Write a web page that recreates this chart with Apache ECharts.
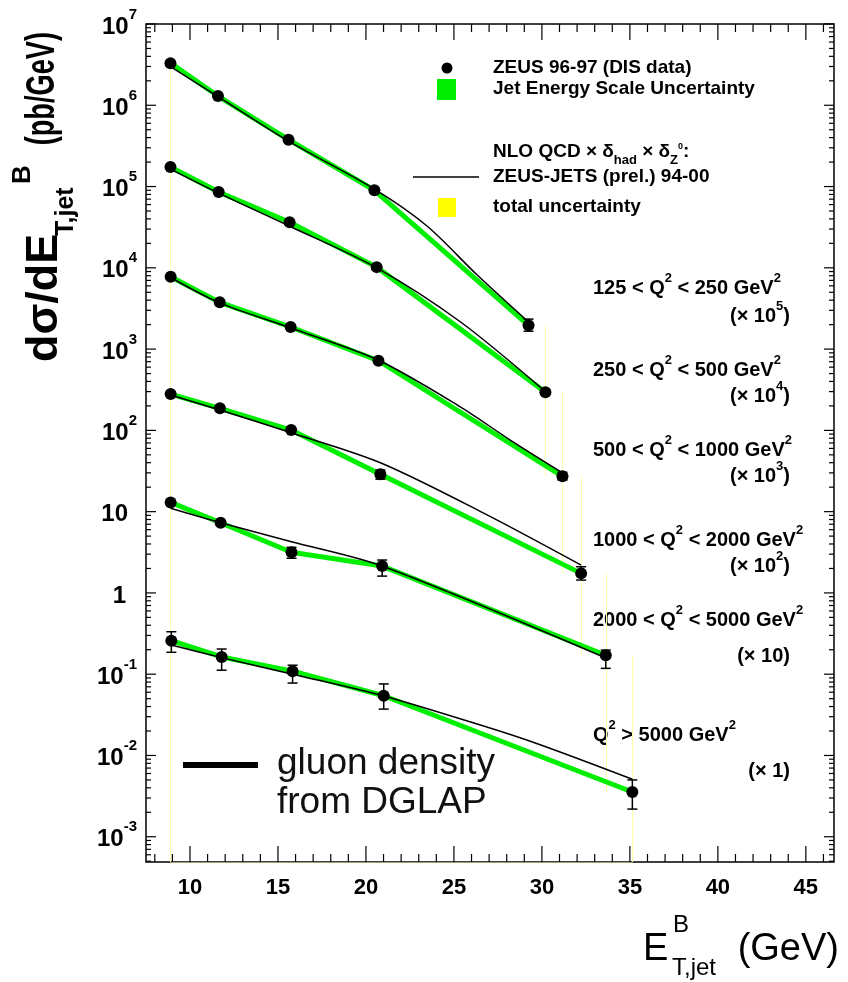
<!DOCTYPE html>
<html><head><meta charset="utf-8">
<script src="https://cdn.jsdelivr.net/npm/echarts@6/dist/echarts.min.js"></script>
<style>html,body{margin:0;padding:0;background:#fff}#c{width:848px;height:982px}</style>
</head><body><div id="c"></div>
<script>
const FONT = '"Liberation Sans", Arial, Helvetica, sans-serif';
const GREEN = '#00ee00';
const YELLOW = '#ffff00';
const PALEYELLOW = '#ffffa8';

// ---- data: 125 < Q2 < 250 (x 1e5)
const s1X  = [8.89, 11.59, 15.60, 20.48, 29.24];
const s1Y  = [3.3e6, 1.3e6, 3.77e5, 9.0e4, 1960];
const s1Lo = [null, null, null, null, 1660];
const s1Hi = [null, null, null, null, 2340];
const t1X  = [8.89, 11.59, 15.60, 20.48, 23.47, 26.31, 29.24];
const t1Y  = [2.98e6, 1.28e6, 3.62e5, 9.3e4, 3.27e4, 8.2e3, 2.15e3];
// ---- 250 < Q2 < 500 (x 1e4)
const s2X  = [8.89, 11.63, 15.66, 20.61, 30.20];
const s2Y  = [1.74e5, 8.57e4, 3.63e4, 1.02e4, 294];
const s2Lo = [null, null, null, null, null];
const s2Hi = [null, null, null, null, null];
const t2X  = [8.89, 11.63, 15.66, 20.61, 25.36, 30.20];
const t2Y  = [1.64e5, 8.3e4, 3.25e4, 1.0e4, 2.17e3, 300];
// ---- 500 < Q2 < 1000 (x 1e3)
const s3X  = [8.90, 11.69, 15.72, 20.71, 31.17];
const s3Y  = [7780, 3760, 1870, 719, 27.2];
const s3Lo = [null, null, null, null, 24.5];
const s3Hi = [null, null, null, null, 30.5];
const t3X  = [8.90, 11.69, 15.72, 20.71, 25.36, 28.2, 31.17];
const t3Y  = [7600, 3700, 1820, 730, 195, 76, 30];
// ---- 1000 < Q2 < 2000 (x 1e2)
const s4X  = [8.90, 11.70, 15.75, 20.82, 32.23];
const s4Y  = [280, 187, 101, 28.8, 1.74];
const s4Lo = [null, null, null, 25.1, 1.44];
const s4Hi = [null, null, null, 32.5, 2.10];
const t4X  = [8.90, 11.70, 15.75, 20.82, 26.69, 32.23];
const t4Y  = [272, 178, 93.6, 40, 9.6, 2.2];
// ---- 2000 < Q2 < 5000 (x 10)
const s5X  = [8.90, 11.74, 15.77, 20.92, 33.63];
const s5Y  = [13.0, 7.31, 3.16, 2.14, 0.171];
const s5Lo = [null, null, 2.67, 1.61, 0.118];
const s5Hi = [null, null, 3.64, 2.54, 0.198];
const t5X  = [8.90, 11.74, 15.77, 20.92, 33.63];
const t5Y  = [11.0, 7.3, 4.27, 2.14, 0.158];
// ---- Q2 > 5000 (x 1)
const s6X  = [8.94, 11.80, 15.83, 21.01, 35.14];
const s6Y  = [0.258, 0.163, 0.109, 0.0543, 0.00355];
const s6Lo = [0.186, 0.112, 0.0778, 0.0372, 0.00219];
const s6Hi = [0.333, 0.204, 0.129, 0.0759, 0.0050];
const t6X  = [8.94, 11.80, 15.83, 21.01, 26.69, 29.9, 35.14];
const t6Y  = [0.229, 0.16, 0.1, 0.054, 0.023, 0.01355, 0.0051];

// bin labels
const binRange = [['125 < Q','2',' < 250 GeV','2'], ['250 < Q','2',' < 500 GeV','2'], ['500 < Q','2',' < 1000 GeV','2'],
                  ['1000 < Q','2',' < 2000 GeV','2'], ['2000 < Q','2',' < 5000 GeV','2'], ['Q','2',' > 5000 GeV','2']];
const binScale = [['(× 10','5',')'], ['(× 10','4',')'], ['(× 10','3',')'], ['(× 10','2',')'], ['(× 10','',')'], ['(× 1','',')']];

// axis ticks and labels
const xMajorTicks = [10, 15, 20, 25, 30, 35, 40, 45];
const xMinorTicks = [8, 9, 11, 12, 13, 14, 16, 17, 18, 19, 21, 22, 23, 24, 26, 27, 28, 29, 31, 32, 33, 34, 36, 37, 38, 39, 41, 42, 43, 44, 46];
const yDecades = [-3, -2, -1, 0, 1, 2, 3, 4, 5, 6, 7];
const yMinorMult = [2, 3, 4, 5, 6, 7, 8, 9];

const X_MIN = 7.5, X_MAX = 46.6, Y_MIN = 4.89e-4, Y_MAX = 1e7;

const sets = [
  [s1X, s1Y, s1Lo, s1Hi, t1X, t1Y],
  [s2X, s2Y, s2Lo, s2Hi, t2X, t2Y],
  [s3X, s3Y, s3Lo, s3Hi, t3X, t3Y],
  [s4X, s4Y, s4Lo, s4Hi, t4X, t4Y],
  [s5X, s5Y, s5Lo, s5Hi, t5X, t5Y],
  [s6X, s6Y, s6Lo, s6Hi, t6X, t6Y]
];

const zip = (xs, ys) => xs.map((x, i) => [x, ys[i]]);
const series = [];

// pale yellow outline segments of the theory uncertainty
const yl = [];
yl.push({coords: [[s1X[0], s1Y[0]], [s1X[0], Y_MIN]]});
yl.push({coords: [[s1X[0], Y_MIN], [s6X[4], Y_MIN]]});
for (let k = 1; k < 6; k++) {
  const lx = sets[k][0][4];
  const top = sets[k - 1][1][4];
  const bot = k < 5 ? sets[k + 1][1][4] : Y_MIN;
  yl.push({coords: [[lx, top], [lx, bot]]});
}
series.push({type: 'lines', coordinateSystem: 'cartesian2d', data: yl, silent: true, z: 1,
  lineStyle: {color: PALEYELLOW, width: 1, opacity: 1}});

sets.forEach((s, k) => {
  series.push({type: 'line', data: zip(s[0], s[1]), symbol: 'none', silent: true, z: 2,
    lineStyle: {color: GREEN, width: 5}});
  series.push({type: 'line', data: zip(s[4], s[5]), symbol: 'none', smooth: 0.3, silent: true, z: 3,
    lineStyle: {color: '#000', width: 1.5}});
  series.push({type: 'scatter', data: zip(s[0], s[1]), symbol: 'circle', symbolSize: 12, silent: true, z: 5,
    itemStyle: {color: '#000', opacity: 1}});
});

// error bars
const errData = [];
sets.forEach(s => s[0].forEach((x, i) => { if (s[2][i] != null) errData.push([x, s[2][i], s[3][i]]); }));
series.push({type: 'custom', data: errData, z: 4, silent: true, clip: false, encode: {x: 0, y: [1, 2]},
  renderItem: (p, api) => {
    const x = api.value(0);
    const a = api.coord([x, api.value(1)]), b = api.coord([x, api.value(2)]);
    const c = 5, st = {stroke: '#000', lineWidth: 1.5};
    return {type: 'group', children: [
      {type: 'line', shape: {x1: a[0], y1: a[1], x2: b[0], y2: b[1]}, style: st},
      {type: 'line', shape: {x1: a[0] - c, y1: a[1], x2: a[0] + c, y2: a[1]}, style: st},
      {type: 'line', shape: {x1: b[0] - c, y1: b[1], x2: b[0] + c, y2: b[1]}, style: st}
    ]};
  }});

// frame ticks on all four sides + y decade labels
const tickData = [];
xMajorTicks.forEach(v => tickData.push([v, Y_MIN, 0]));
xMinorTicks.forEach(v => tickData.push([v, Y_MIN, 1]));
yDecades.forEach(d => tickData.push([X_MIN, Math.pow(10, d), 2]));
yDecades.forEach(d => yMinorMult.forEach(m => {
  const v = m * Math.pow(10, d - 1);
  if (v > Y_MIN && v < Y_MAX) tickData.push([X_MIN, v, 3]);
}));
const labRich = {
  b: {fontSize: 24, fontWeight: 'bold', fontFamily: FONT, fill: '#000', lineHeight: 32, verticalAlign: 'bottom'},
  e: {fontSize: 15, fontWeight: 'bold', fontFamily: FONT, fill: '#000', lineHeight: 15, verticalAlign: 'top'}
};
series.push({type: 'custom', data: tickData, z: 6, silent: true, clip: false, encode: {x: 0, y: 1},
  renderItem: (p, api) => {
    const k = api.value(2), st = {stroke: '#000', lineWidth: 1.2};
    if (k < 2) {
      const v = api.value(0), b = api.coord([v, Y_MIN]), t = api.coord([v, Y_MAX]), L = k === 0 ? 16 : 8;
      return {type: 'group', children: [
        {type: 'line', shape: {x1: b[0], y1: b[1], x2: b[0], y2: b[1] - L}, style: st},
        {type: 'line', shape: {x1: t[0], y1: t[1], x2: t[0], y2: t[1] + L}, style: st}]};
    }
    const v = api.value(1), l = api.coord([X_MIN, v]), r = api.coord([X_MAX, v]), L = k === 2 ? 10 : 5;
    const ch = [
      {type: 'line', shape: {x1: l[0], y1: l[1], x2: l[0] + L, y2: l[1]}, style: st},
      {type: 'line', shape: {x1: r[0], y1: r[1], x2: r[0] - L, y2: r[1]}, style: st}];
    if (k === 2) {
      const e = Math.round(Math.log10(v));
      let txt, xr;
      if (e === 0) { txt = '{b|1}'; xr = l[0] - 20; }
      else if (e === 1) { txt = '{b|10}'; xr = l[0] - 18; }
      else { txt = '{b|10}{e|' + e + '}'; xr = l[0] - 9; }
      ch.push({type: 'text', x: xr, y: l[1] - 1, style: {text: txt, rich: labRich, align: 'right', verticalAlign: 'middle'}});
    }
    return {type: 'group', children: ch};
  }});

// graphic texts
const richStd = {
  t: {fontSize: 20, fontWeight: 'bold', fontFamily: FONT, fill: '#000', lineHeight: 26, verticalAlign: 'bottom'},
  s: {fontSize: 13, fontWeight: 'bold', fontFamily: FONT, fill: '#000', lineHeight: 13, verticalAlign: 'top'}
};
const binY = [285, 367, 447, 537, 617, 732];
const scaleY = [313, 393, 473, 563, 653, 768];
const graphics = [];
binRange.forEach((r, k) => {
  const txt = '{t|' + r[0] + '}{s|' + r[1] + '}{t|' + r[2] + '}{s|' + r[3] + '}';
  graphics.push({type: 'text', x: 593, y: binY[k], style: {text: txt, rich: richStd, align: 'left', verticalAlign: 'middle'}});
  const sc = binScale[k];
  const t2 = '{t|' + sc[0] + '}' + (sc[1] ? '{s|' + sc[1] + '}' : '') + '{t|' + sc[2] + '}';
  graphics.push({type: 'text', x: 790, y: scaleY[k], style: {text: t2, rich: richStd, align: 'right', verticalAlign: 'middle'}});
});

// legend (top right)
const legRich = {
  t: {fontSize: 19, fontWeight: 'bold', fontFamily: FONT, fill: '#000', lineHeight: 28, verticalAlign: 'bottom'},
  sub: {fontSize: 13, fontWeight: 'bold', fontFamily: FONT, fill: '#000', lineHeight: 28, verticalAlign: 'bottom', padding: [0, 0, -6, 0]},
  z0: {fontSize: 9, fontWeight: 'bold', fontFamily: FONT, fill: '#000', lineHeight: 28, verticalAlign: 'middle'}
};
graphics.push({type: 'circle', shape: {cx: 447, cy: 68, r: 5.5}, style: {fill: '#000'}});
graphics.push({type: 'text', x: 493, y: 68, style: {text: 'ZEUS 96-97 (DIS data)', font: 'bold 19px ' + FONT, fill: '#000', verticalAlign: 'middle'}});
graphics.push({type: 'rect', shape: {x: 437, y: 79, width: 19, height: 21}, style: {fill: GREEN}});
graphics.push({type: 'text', x: 493, y: 89, style: {text: 'Jet Energy Scale Uncertainty', font: 'bold 19px ' + FONT, fill: '#000', verticalAlign: 'middle'}});
graphics.push({type: 'text', x: 493, y: 147, style: {text: '{t|NLO QCD × δ}{sub|had}{t| × δ}{sub|Z}{z0|0}{t|:}', rich: legRich, verticalAlign: 'middle'}});
graphics.push({type: 'line', shape: {x1: 413, y1: 177, x2: 479, y2: 177}, style: {stroke: '#000', lineWidth: 1.5}});
graphics.push({type: 'text', x: 493, y: 177, style: {text: 'ZEUS-JETS (prel.) 94-00', font: 'bold 19px ' + FONT, fill: '#000', verticalAlign: 'middle'}});
graphics.push({type: 'rect', shape: {x: 438, y: 198, width: 18, height: 19}, style: {fill: YELLOW}});
graphics.push({type: 'text', x: 493, y: 207, style: {text: 'total uncertainty', font: 'bold 19px ' + FONT, fill: '#000', verticalAlign: 'middle'}});

// gluon density annotation
graphics.push({type: 'line', shape: {x1: 183, y1: 765, x2: 258, y2: 765}, style: {stroke: '#000', lineWidth: 6}});
graphics.push({type: 'text', x: 277, y: 764, style: {text: 'gluon density', font: '37px ' + FONT, fill: '#111', verticalAlign: 'middle'}});
graphics.push({type: 'text', x: 277, y: 803, style: {text: 'from DGLAP', font: '37px ' + FONT, fill: '#111', verticalAlign: 'middle'}});

// x-axis title
graphics.push({type: 'text', x: 643, y: 950, style: {text: 'E', font: '38px ' + FONT, fill: '#000', verticalAlign: 'middle'}});
graphics.push({type: 'text', x: 673, y: 925, style: {text: 'B', font: '24px ' + FONT, fill: '#000', verticalAlign: 'middle'}});
graphics.push({type: 'text', x: 672, y: 968, style: {text: 'T,jet', font: '24px ' + FONT, fill: '#000', verticalAlign: 'middle'}});
graphics.push({type: 'text', x: 839, y: 950, style: {text: '(GeV)', font: '38px ' + FONT, fill: '#000', align: 'right', verticalAlign: 'middle'}});

// y-axis title (rotated group)
graphics.push({type: 'group', x: 45, y: 362, rotation: Math.PI / 2, children: [
  {type: 'text', x: 0, y: 0, style: {text: 'dσ/dE', font: 'bold 45px ' + FONT, fill: '#000', verticalAlign: 'middle'}},
  {type: 'text', x: 178, y: -22, style: {text: 'B', font: 'bold 26px ' + FONT, fill: '#000', verticalAlign: 'middle'}},
  {type: 'text', x: 126, y: 21, style: {text: 'T,jet', font: 'bold 25px ' + FONT, fill: '#000', verticalAlign: 'middle'}},
  {type: 'text', x: 330, y: -2, scaleX: 0.68, style: {text: '(pb/GeV)', font: 'bold 40px ' + FONT, fill: '#000', align: 'right', verticalAlign: 'middle'}}
]});

const chart = echarts.init(document.getElementById('c'), null, {renderer: 'canvas'});
chart.setOption({
  backgroundColor: '#fff',
  animation: false,
  grid: {left: 146, right: 14, top: 24, bottom: 120, show: true, borderColor: '#000', borderWidth: 1.5, backgroundColor: 'transparent'},
  xAxis: {type: 'value', min: X_MIN, max: X_MAX, splitNumber: 8,
    axisLine: {show: false}, axisTick: {show: false}, splitLine: {show: false},
    axisLabel: {margin: 15, color: '#000', fontFamily: FONT, fontSize: 22, fontWeight: 'bold',
      formatter: v => (Math.abs(v % 5) < 1e-9 && v >= 10 && v <= 45) ? String(v) : ''}},
  yAxis: {type: 'log', logBase: 10, min: Y_MIN, max: Y_MAX,
    axisLine: {show: false}, axisTick: {show: false}, splitLine: {show: false}, axisLabel: {show: false}},
  graphic: graphics,
  series: series
});
</script></body></html>
